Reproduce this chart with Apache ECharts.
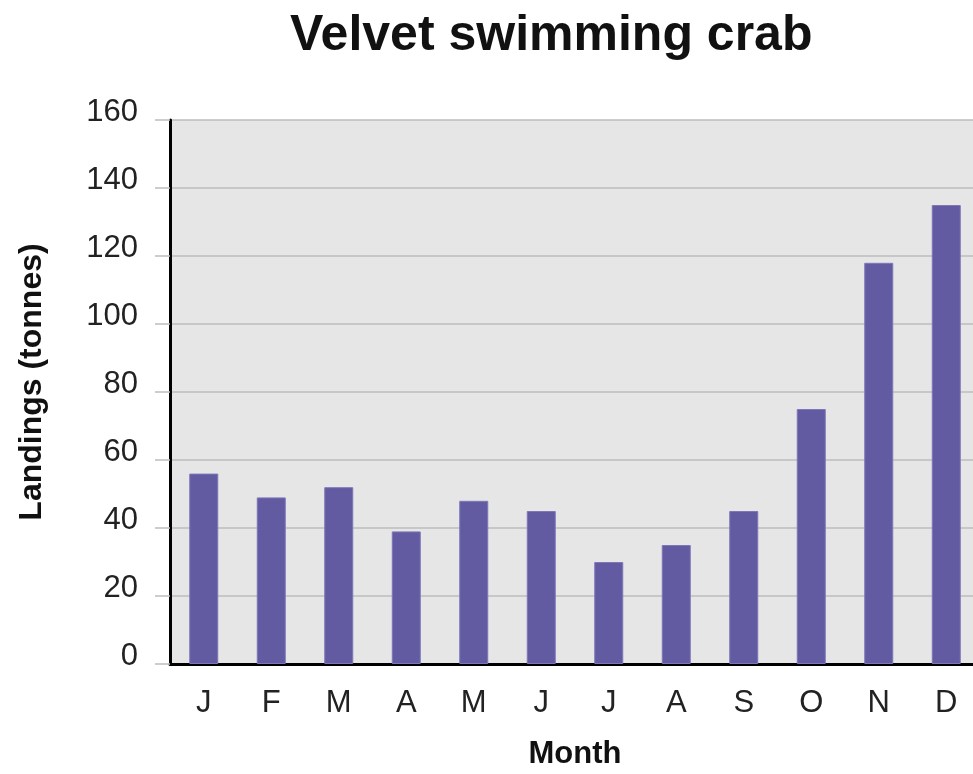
<!DOCTYPE html>
<html>
<head>
<meta charset="utf-8">
<script src="https://cdn.jsdelivr.net/npm/echarts@6/dist/echarts.min.js"></script>
<style>
  html, body { margin: 0; padding: 0; background: #ffffff; }
  #chart { width: 973px; height: 774px; }
</style>
</head>
<body>
<div id="chart"></div>
<script>
  // 数据
  var months = ['J', 'F', 'M', 'A', 'M', 'J', 'J', 'A', 'S', 'O', 'N', 'D'];
  var landings = [56, 49, 52, 39, 48, 45, 30, 35, 45, 75, 118, 135];
  var yTicks = [0, 20, 40, 60, 80, 100, 120, 140, 160];

  var myChart = echarts.init(document.getElementById('chart'));
  var font = 'Liberation Sans, Arial, sans-serif';

  var option = {
    animation: false,
    title: {
      text: 'Velvet swimming crab',
      left: 285,
      top: 6,
      textStyle: { fontFamily: font, fontSize: 50, fontWeight: 'bold', color: '#111' }
    },
    grid: {
      left: 170,
      top: 120,
      width: 810, // 右侧超出画布，被裁掉
      height: 544,
      show: true,
      backgroundColor: '#e6e6e6',
      borderWidth: 0,
      containLabel: false,
      outerBoundsMode: 'none'
    },
    xAxis: {
      type: 'category',
      data: months,
      name: 'Month',
      nameLocation: 'middle',
      nameGap: 75,
      nameTextStyle: { fontFamily: font, fontSize: 31, fontWeight: 'bold', color: '#111' },
      axisLine: { lineStyle: { color: '#000', width: 3 } },
      axisTick: { length: 12, lineStyle: { color: '#bdbdbd', width: 1 } },
      axisLabel: { margin: 24, fontFamily: font, fontSize: 31, color: '#222' }
    },
    yAxis: {
      type: 'value',
      min: yTicks[0],
      max: yTicks[yTicks.length - 1],
      interval: 20,
      name: 'Landings (tonnes)',
      nameLocation: 'middle',
      nameGap: 122,
      nameTextStyle: { fontFamily: font, fontSize: 32, fontWeight: 'bold', color: '#111', padding: [0, 0, 0, 20] },
      axisLine: { show: true, lineStyle: { color: '#000', width: 3 } },
      axisTick: { show: true, length: 15, lineStyle: { color: '#bdbdbd', width: 1.5 } },
      axisLabel: {
        margin: 32, fontFamily: font, fontSize: 31, color: '#222',
        verticalAlign: 'bottom', lineHeight: 16 // 标签略高于刻度线
      },
      splitLine: { lineStyle: { color: '#bdbdbd', width: 1.5 } }
    },
    series: [{
      type: 'bar',
      data: landings,
      barWidth: 29,
      itemStyle: { color: '#625ba2', borderColor: '#7d77b8', borderWidth: 1 }
    }]
  };
  myChart.setOption(option);
</script>
</body>
</html>
